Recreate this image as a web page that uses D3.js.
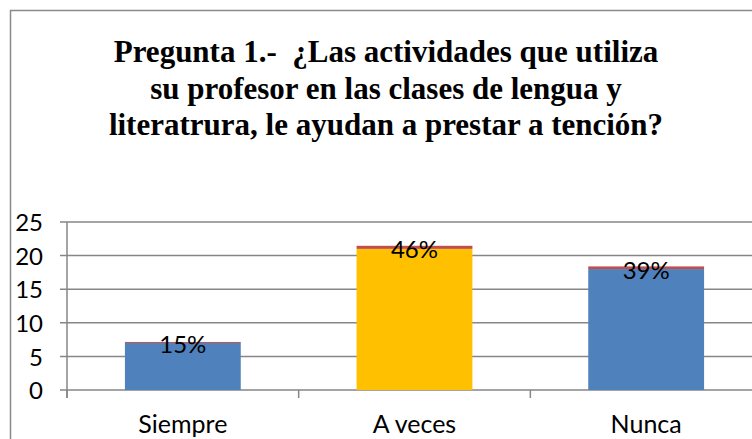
<!DOCTYPE html>
<html>
<head>
<meta charset="utf-8">
<script src="https://cdn.jsdelivr.net/npm/d3@7"></script>
<style>
  body { margin: 0; background: #fff; }
  svg { display: block; }
</style>
</head>
<body>
<div id="chart_area"></div>
<script>
var categories = ["Siempre", "A veces", "Nunca"];
var counts = [7, 21, 18];
var shares = [0.15, 0.46, 0.39];
var shareLabels = ["15%", "46%", "39%"];
var barColors = ["#4F81BD", "#FFC000", "#4F81BD"];
var yTicks = [0, 5, 10, 15, 20, 25];
var titleLines = [
  "Pregunta 1.-  \u00bfLas actividades que utiliza",
  "su profesor en las clases de lengua y",
  "literatrura, le ayudan a prestar a tenci\u00f3n?"
];

var frame_width = 752, frame_height = 439;
var frame = d3.select("#chart_area").append("svg")
  .attr("width", frame_width).attr("height", frame_height);

// chart border (right and bottom edges fall outside the picture)
frame.append("rect")
  .attr("x", 10.5).attr("y", 10.5)
  .attr("width", 800).attr("height", 500)
  .attr("fill", "#fff").attr("stroke", "#8a8a8a").attr("stroke-width", 1.5);

var title = frame.append("text")
  .attr("text-anchor", "middle")
  .style("font-family", "'Liberation Serif', 'Times New Roman', serif")
  .style("font-weight", "bold")
  .style("font-size", "31px")
  .style("white-space", "pre")
  .attr("fill", "#000");
titleLines.forEach(function(t, i) {
  title.append("tspan").attr("x", 386).attr("y", 62 + i * 36.5).text(t);
});

var plot_left = 67, plot_right = 762, plot_top = 222, plot_bottom = 390;

var xScale = d3.scaleBand().domain(categories).range([plot_left, plot_right]).paddingInner(0.5).paddingOuter(0.25);
var yScale = d3.scaleLinear().domain([0, 25]).range([plot_bottom, plot_top]);

// gridlines
frame.append("g").selectAll("line").data(yTicks).enter().append("line")
  .attr("x1", plot_left - 7).attr("x2", frame_width)
  .attr("y1", function(d) { return yScale(d); })
  .attr("y2", function(d) { return yScale(d); })
  .attr("stroke", "#868686").attr("stroke-width", 1.5);

// y axis
var yAxis = d3.axisLeft(yScale).tickValues(yTicks).tickSize(0).tickPadding(24);
var yg = frame.append("g").attr("transform", "translate(" + plot_left + ",0)").call(yAxis);
yg.select(".domain").remove();
yg.selectAll("text")
  .style("font-family", "Lato, 'Open Sans', sans-serif")
  .style("font-size", "24px").attr("fill", "#000").attr("dy", "0.36em");

frame.append("line")
  .attr("x1", plot_left).attr("x2", plot_left)
  .attr("y1", plot_top).attr("y2", plot_bottom + 8)
  .attr("stroke", "#868686").attr("stroke-width", 1.5);

// category ticks at band boundaries
var step = xScale.step();
frame.append("g").selectAll("line").data(d3.range(categories.length + 1)).enter().append("line")
  .attr("x1", function(i) { return plot_left + i * step; })
  .attr("x2", function(i) { return plot_left + i * step; })
  .attr("y1", plot_bottom).attr("y2", plot_bottom + 8)
  .attr("stroke", "#868686").attr("stroke-width", 1.5);

// bars: counts with the share stacked on top
var bars = frame.append("g");
bars.selectAll("rect.count").data(categories).enter().append("rect")
  .attr("class", "count")
  .attr("x", function(d) { return xScale(d); })
  .attr("width", xScale.bandwidth())
  .attr("y", function(d, i) { return yScale(counts[i]); })
  .attr("height", function(d, i) { return yScale(0) - yScale(counts[i]); })
  .attr("fill", function(d, i) { return barColors[i]; });

bars.selectAll("rect.share").data(categories).enter().append("rect")
  .attr("class", "share")
  .attr("x", function(d) { return xScale(d); })
  .attr("width", xScale.bandwidth())
  .attr("y", function(d, i) { return yScale(counts[i] + shares[i]); })
  .attr("height", function(d, i) { return Math.max(1, yScale(counts[i]) - yScale(counts[i] + shares[i])); })
  .attr("fill", "#C0504D");

frame.append("g").selectAll("text").data(categories).enter().append("text")
  .attr("x", function(d) { return xScale(d) + xScale.bandwidth() / 2; })
  .attr("y", function(d, i) { return yScale(counts[i] + shares[i] / 2) + 11; })
  .attr("text-anchor", "middle")
  .style("font-family", "Lato, 'Open Sans', sans-serif")
  .style("font-size", "24px").attr("fill", "#000")
  .text(function(d, i) { return shareLabels[i]; });

// category labels
frame.append("g").selectAll("text").data(categories).enter().append("text")
  .attr("x", function(d) { return xScale(d) + xScale.bandwidth() / 2; })
  .attr("y", 433)
  .attr("text-anchor", "middle")
  .style("font-family", "Lato, 'Open Sans', sans-serif")
  .style("font-size", "25px").attr("fill", "#000")
  .text(function(d) { return d; });
</script>
</body>
</html>
